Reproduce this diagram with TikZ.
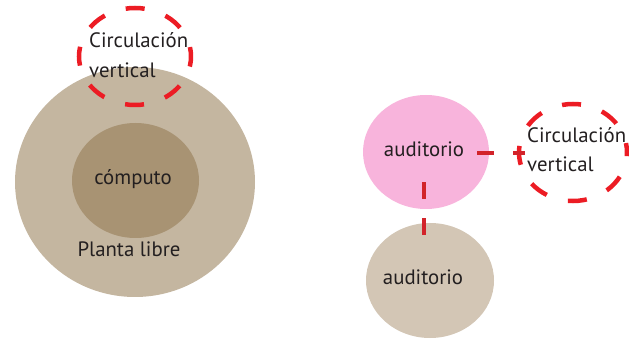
\documentclass[tikz,border=0pt]{standalone}
\usepackage{fontspec}
\setmainfont{PT Sans}
\usetikzlibrary{shapes.geometric,calc}
\definecolor{outerbeige}{HTML}{C4B6A0}
\definecolor{innerbrown}{HTML}{A89373}
\definecolor{pinkfill}{HTML}{F8B4DC}
\definecolor{lightbeige}{HTML}{D3C6B5}
\definecolor{ringred}{HTML}{EC1C24}
\definecolor{linkred}{HTML}{D2232A}
\definecolor{ink}{HTML}{231F20}
\begin{document}
\begin{tikzpicture}[x=1pt,y=1pt,
  blob/.style={ellipse,inner sep=0pt,draw=none},
  cvring/.style={ellipse,inner sep=0pt,draw=ringred,line width=4.5pt,dash pattern=on 19pt off 22pt,dash phase=9.5pt},
  lbl/.style={font=\fontsize{20.8}{29.5}\selectfont,text=ink,inner sep=0pt},
  link/.style={draw=linkred,line width=4pt,dash pattern=on 17pt off 19pt}]
\useasboundingbox (0,0) rectangle (629,340);
% left group
\node[blob,fill=outerbeige,minimum width=240pt,minimum height=230pt] (planta) at (135,158) {};
\node[blob,fill=innerbrown,minimum width=127pt,minimum height=115pt] (comp) at (135.5,159.5) {};
\node[lbl,anchor=base] (tcomp) at (133,155) {cómputo};
\node[lbl,anchor=base] (tplanta) at (129,83) {Planta libre};
\node[cvring,minimum width=112pt,minimum height=97pt] (cv1) at (135,283.5) {};
\node[lbl,align=left,anchor=west] (tcv1) at (89,285) {Circulación\\vertical};
% right group
\node[blob,fill=pinkfill,minimum width=126pt,minimum height=114pt] (aud1) at (426,188) {};
\node[blob,fill=lightbeige,minimum width=128pt,minimum height=115pt] (aud2) at (430,59.5) {};
\node[lbl,anchor=base] (taud1) at (424,183) {auditorio};
\node[lbl,anchor=base] (taud2) at (423,55) {auditorio};
\node[cvring,minimum width=108pt,minimum height=97pt] (cv2) at (573,187.5) {};
\node[lbl,align=left,anchor=west] (tcv2) at (527,190.5) {Circulación\\vertical};
% connectors
\draw[link] ($(aud1.east)+(-12,-1)$) -- ($(cv2.west)+(8,-0.5)$);
\draw[link] ($(aud1.south)+(-2,27)$) -- ($(aud2.north)+(-6,-12)$);
\end{tikzpicture}
\end{document}
